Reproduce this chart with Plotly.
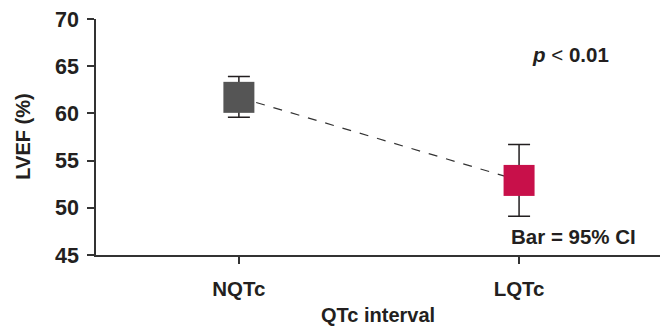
import plotly.graph_objects as go

categories = ["NQTc", "LQTc"]
means = [61.7, 52.9]
ci_upper = [63.9, 56.7]
ci_lower = [59.6, 49.1]
colors = ["#555555", "#C8104A"]
y_ticks = [45, 50, 55, 60, 65, 70]

FONT = "Arial, Liberation Sans, sans-serif"
TXT = "#231f20"

fig = go.Figure()

# dashed connecting line
fig.add_trace(go.Scatter(
    x=categories, y=means, mode="lines",
    line=dict(color="#333333", width=1.2, dash="dash"),
    hoverinfo="skip", showlegend=False))

# squares with 95% CI whiskers
fig.add_trace(go.Scatter(
    x=categories, y=means, mode="markers",
    marker=dict(symbol="square", size=31, color=colors, line=dict(width=0)),
    error_y=dict(type="data", symmetric=False,
                 array=[u - m for u, m in zip(ci_upper, means)],
                 arrayminus=[m - l for m, l in zip(means, ci_lower)],
                 color="#231f20", thickness=1.5, width=11),
    showlegend=False))

fig.update_layout(
    width=660, height=326,
    margin=dict(l=96, r=0, t=19, b=71),
    paper_bgcolor="white", plot_bgcolor="white",
    font=dict(family=FONT, color=TXT),
    xaxis=dict(
        type="category", range=[-0.51, 1.503], automargin=False,
        showline=True, linecolor="#333333", linewidth=1.5,
        ticks="outside", ticklen=7, tickwidth=1.5, tickcolor="#333333",
        tickfont=dict(size=20.5, family=FONT, color=TXT),
        ticktext=["<b>NQTc</b>", "<b>LQTc</b>"], tickvals=categories,
        ticklabelstandoff=8,
        showgrid=False, zeroline=False,
    ),
    yaxis=dict(
        range=[45, 70], automargin=False,
        tickvals=y_ticks, ticktext=[f"<b>{v}</b>" for v in y_ticks],
        showline=True, linecolor="#333333", linewidth=1.5,
        ticks="outside", ticklen=7, tickwidth=1.5, tickcolor="#333333",
        tickfont=dict(size=21.5, family=FONT, color=TXT),
        ticklabelstandoff=4,
        showgrid=False, zeroline=False,
    ),
    annotations=[
        dict(text="<b>QTc interval</b>", xref="paper", yref="paper",
             x=0.5, y=-0.256, xanchor="center", yanchor="middle",
             showarrow=False, font=dict(size=20, color=TXT, family=FONT)),
        dict(text="<b>LVEF (%)</b>", xref="paper", yref="paper",
             x=-0.13, y=0.5, xanchor="center", yanchor="middle", textangle=-90,
             showarrow=False, font=dict(size=20, color=TXT, family=FONT)),
        dict(text="<b><i>p</i></b> &lt; <b>0.01</b>", xref="paper", yref="paper",
             x=0.7695, y=0.8515, xanchor="left", yanchor="middle",
             showarrow=False, font=dict(size=20.5, color=TXT, family=FONT)),
        dict(text="<b>Bar = 95% CI</b>", xref="paper", yref="paper",
             x=0.732, y=0.0793, xanchor="left", yanchor="middle",
             showarrow=False, font=dict(size=20.5, color=TXT, family=FONT)),
    ],
)

fig.write_html("out.html",
               config={"displayModeBar": False},
               post_script="document.body.style.margin='0';document.body.style.overflow='hidden';")
